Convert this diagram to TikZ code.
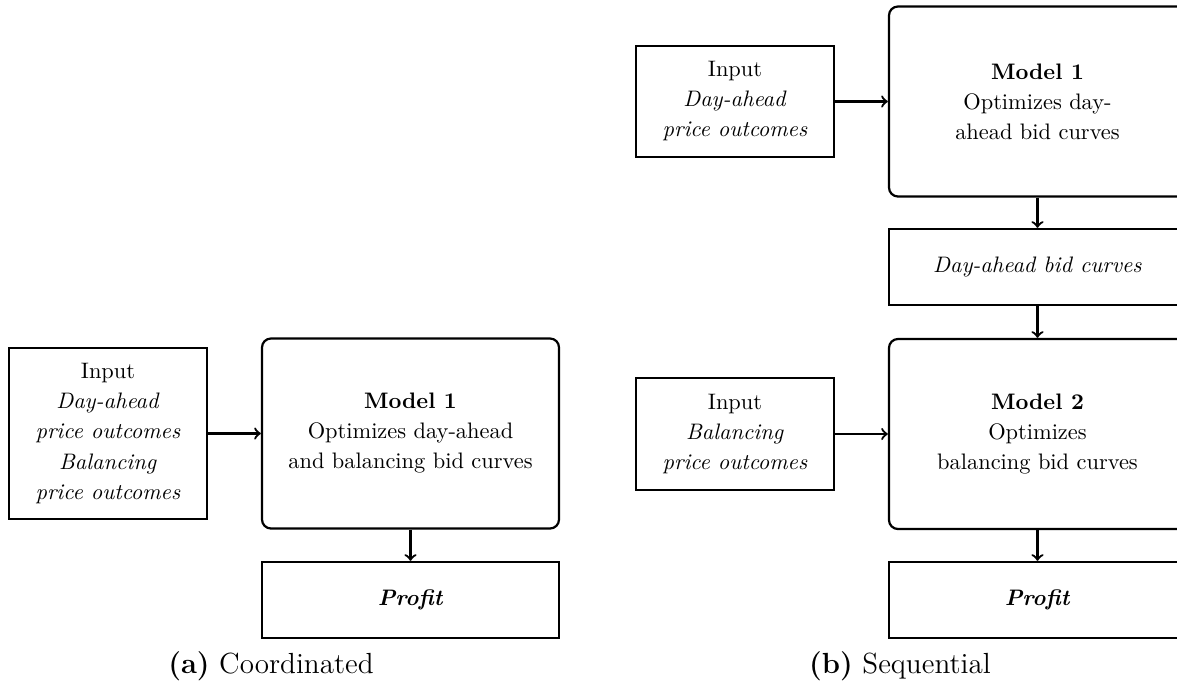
\documentclass[tikz,border=0pt]{standalone}
\usetikzlibrary{arrows}
\def\pxs{0.4464}
\newcommand\boxfont{\fontsize{10}{13.4}\selectfont}
\newcommand\capfont{\fontsize{13}{15}\selectfont}
\tikzset{
  box/.style={draw, line width=1pt, inner sep=0pt, align=center, font=\boxfont},
  inbox/.style={box, minimum width={198*\pxs pt}},
  modbox/.style={box, rounded corners=4pt, minimum width={297*\pxs pt}, minimum height={190*\pxs pt}},
  outbox/.style={box, minimum width={297*\pxs pt}, minimum height={76*\pxs pt}},
  link/.style={->, line width=1pt},
  captext/.style={inner sep=0pt, font=\capfont}
}
\begin{document}
\begin{tikzpicture}[x=\pxs pt, y=-\pxs pt]
  \useasboundingbox (0,0) rectangle (1177,689);
  \clip (0,0) rectangle (1177,689);

  % (a) coordinated model
  \node[inbox, minimum height={171*\pxs pt}] (inA) at (108,433.5)
    {Input\\ \textit{Day-ahead}\\ \textit{price outcomes}\\ \textit{Balancing}\\ \textit{price outcomes}};
  \node[modbox] (modA) at (410.5,433.5)
    {\textbf{Model 1}\\ Optimizes day-ahead\\ and balancing bid curves};
  \node[outbox] (profA) at (410.5,600) {\textbf{\textit{Profit}}};
  \node[captext] (capA) at (271,666) {\textbf{(a)} Coordinated};
  \draw[link] (inA.east) -- (modA.west);
  \draw[link] (modA.south) -- (profA.north);

  % (b) sequential models
  \node[inbox, minimum height={111*\pxs pt}] (inDA) at (735,101.5)
    {Input\\ \textit{Day-ahead}\\ \textit{price outcomes}};
  \node[modbox] (modB1) at (1037.5,101.5)
    {\textbf{Model 1}\\ Optimizes day-\\ ahead bid curves};
  \node[outbox] (bid) at (1037.5,267) {\textit{Day-ahead bid curves}};
  \node[modbox] (modB2) at (1037.5,434)
    {\textbf{Model 2}\\ Optimizes\\ balancing bid curves};
  \node[inbox, minimum height={112*\pxs pt}] (inBal) at (735,434)
    {Input\\ \textit{Balancing}\\ \textit{price outcomes}};
  \node[outbox] (profB) at (1037.5,600) {\textbf{\textit{Profit}}};
  \node[captext] (capB) at (900,666) {\textbf{(b)} Sequential};
  \draw[link] (inDA.east) -- (modB1.west);
  \draw[link] (modB1.south) -- (bid.north);
  \draw[link] (bid.south) -- (modB2.north);
  \draw[link] (inBal.east) -- (modB2.west);
  \draw[link] (modB2.south) -- (profB.north);
\end{tikzpicture}
\end{document}
